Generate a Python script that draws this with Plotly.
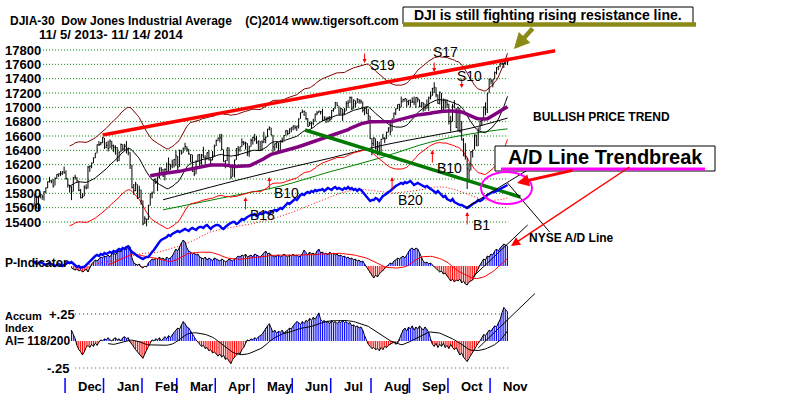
import plotly.graph_objects as go
import pandas as pd

# ---------------------------------------------------------------- data
PRICE_TICKS = [17800, 17600, 17400, 17200, 17000, 16800, 16600, 16400,
               16200, 16000, 15800, 15600, 15400]
MONTHS = ["Dec", "Jan", "Feb", "Mar", "Apr", "May", "Jun", "Jul", "Aug",
          "Sep", "Oct", "Nov"]
# trading-day index (0 = 11/5/2013) of the first session of each month
MONTH_START = [18, 39, 60, 79, 100, 121, 142, 163, 185, 206, 227, 250]

CLOSE_NOV13 = [15618, 15747, 15594, 15762, 15784, 15751, 15822, 15876, 15962, 15976, 15968, 15900, 16010, 16065, 16073, 16073, 16097, 16086]
HIGH_NOV13 = [15660, 15797, 15750, 15765, 15800, 15784, 15830, 15880, 15965, 16030, 15990, 16000, 16020, 16068, 16075, 16110, 16109, 16174]
LOW_NOV13 = [15580, 15620, 15590, 15555, 15730, 15710, 15700, 15800, 15870, 15950, 15940, 15880, 15910, 16000, 16030, 16040, 16055, 16075]
CLOSE_DEC13 = [16008, 15915, 15889, 15822, 16020, 16025, 15973, 15843, 15739, 15756, 15885, 15875, 16167, 16179, 16221, 16295, 16358, 16479, 16479, 16505, 16577]
HIGH_DEC13 = [16120, 16010, 15920, 15900, 16030, 16060, 16025, 15975, 15860, 15800, 15910, 15925, 16180, 16190, 16230, 16300, 16365, 16482, 16529, 16518, 16588]
LOW_DEC13 = [15990, 15880, 15810, 15705, 15825, 15990, 15960, 15830, 15730, 15730, 15760, 15855, 15865, 16100, 16150, 16220, 16290, 16360, 16460, 16470, 16500]
CLOSE_JAN = [16441, 16470, 16425, 16530, 16463, 16444, 16437, 16257, 16374, 16482, 16418, 16459, 16414, 16373, 16198, 15879, 15838, 15929, 15739, 15849, 15699]
HIGH_JAN = [16573, 16518, 16533, 16550, 16530, 16480, 16470, 16445, 16385, 16495, 16485, 16490, 16530, 16440, 16373, 16198, 15930, 15960, 15925, 15905, 15850]
LOW_JAN = [16420, 16430, 16385, 16430, 16410, 16375, 16340, 16240, 16250, 16375, 16390, 16395, 16355, 16330, 16140, 15870, 15780, 15830, 15720, 15735, 15640]
CLOSE_FEB = [15373, 15445, 15440, 15629, 15794, 15801, 15995, 15964, 16028, 16154, 16130, 16041, 16133, 16103, 16208, 16179, 16198, 16273, 16322]
HIGH_FEB = [15700, 15480, 15445, 15640, 15800, 15825, 16000, 16010, 16035, 16160, 16165, 16140, 16150, 16230, 16300, 16210, 16270, 16280, 16400]
LOW_FEB = [15355, 15373, 15340, 15430, 15630, 15730, 15800, 15930, 15830, 16005, 16090, 16030, 15980, 16090, 16105, 16125, 16150, 16160, 16180]
CLOSE_MAR = [16168, 16396, 16361, 16422, 16453, 16419, 16351, 16341, 16108, 16066, 16247, 16337, 16223, 16332, 16303, 16276, 16368, 16268, 16264, 16323, 16458]
HIGH_MAR = [16320, 16410, 16400, 16440, 16505, 16455, 16420, 16345, 16340, 16130, 16260, 16340, 16350, 16350, 16450, 16330, 16370, 16405, 16290, 16390, 16480]
LOW_MAR = [16100, 16170, 16340, 16365, 16410, 16380, 16340, 16235, 16100, 16040, 16070, 16245, 16180, 16200, 16295, 16200, 16270, 16260, 16180, 16260, 16320]
CLOSE_APR = [16533, 16573, 16573, 16413, 16246, 16256, 16438, 16171, 16027, 16174, 16263, 16425, 16409, 16449, 16514, 16502, 16501, 16362, 16449, 16535, 16581]
HIGH_APR = [16550, 16575, 16630, 16630, 16410, 16260, 16440, 16440, 16170, 16190, 16270, 16430, 16460, 16450, 16565, 16530, 16520, 16500, 16465, 16565, 16590]
LOW_APR = [16460, 16530, 16510, 16400, 16240, 16150, 16250, 16170, 16000, 16030, 16020, 16265, 16320, 16380, 16445, 16470, 16410, 16320, 16310, 16450, 16480]
CLOSE_MAY = [16558, 16513, 16531, 16401, 16518, 16551, 16583, 16695, 16715, 16614, 16447, 16492, 16511, 16374, 16533, 16543, 16606, 16675, 16633, 16698, 16717]
HIGH_MAY = [16630, 16600, 16535, 16530, 16540, 16660, 16590, 16700, 16735, 16715, 16615, 16495, 16515, 16510, 16535, 16580, 16610, 16680, 16680, 16705, 16720]
LOW_MAY = [16525, 16490, 16400, 16400, 16400, 16500, 16500, 16585, 16680, 16610, 16370, 16400, 16430, 16360, 16375, 16505, 16540, 16605, 16610, 16630, 16650]
CLOSE_JUN = [16743, 16722, 16738, 16837, 16924, 16943, 16946, 16844, 16734, 16776, 16782, 16808, 16906, 16921, 16948, 16938, 16819, 16868, 16846, 16851, 16827]
HIGH_JUN = [16745, 16750, 16740, 16845, 16930, 16970, 16950, 16935, 16850, 16800, 16800, 16840, 16910, 16950, 16950, 16950, 16980, 16870, 16860, 16870, 16880]
LOW_JUN = [16680, 16690, 16670, 16705, 16840, 16920, 16880, 16820, 16730, 16740, 16700, 16750, 16800, 16890, 16920, 16900, 16810, 16810, 16780, 16790, 16800]
CLOSE_JUL = [16957, 16977, 17068, 17025, 16906, 16985, 16915, 16944, 17055, 17061, 17138, 16977, 17100, 17052, 17114, 17087, 17083, 16961, 16983, 16913, 16881, 16563]
HIGH_JUL = [16960, 16990, 17075, 17070, 17020, 16990, 16980, 16990, 17085, 17100, 17150, 17150, 17110, 17095, 17130, 17115, 17110, 17080, 16990, 17010, 16980, 16880]
LOW_JUL = [16830, 16940, 16980, 17020, 16900, 16900, 16810, 16900, 16950, 16990, 17060, 16960, 16980, 17000, 17060, 17050, 17050, 16930, 16890, 16910, 16800, 16560]
CLOSE_AUG = [16493, 16570, 16430, 16443, 16368, 16554, 16570, 16560, 16651, 16713, 16662, 16839, 16919, 16979, 17039, 17001, 17077, 17107, 17123, 17079, 17098]
HIGH_AUG = [16570, 16585, 16565, 16530, 16520, 16560, 16630, 16585, 16660, 16720, 16800, 16840, 16925, 16985, 17040, 17050, 17150, 17120, 17125, 17120, 17100]
LOW_AUG = [16330, 16460, 16410, 16330, 16330, 16330, 16550, 16500, 16560, 16650, 16610, 16670, 16840, 16890, 16975, 16950, 17000, 17070, 17080, 17000, 17030]
CLOSE_SEP = [17068, 17079, 17070, 17138, 17112, 17014, 17068, 17050, 16988, 17031, 17132, 17157, 17266, 17280, 17173, 17056, 17210, 16946, 17114, 17071, 17043]
HIGH_SEP = [17110, 17140, 17150, 17140, 17140, 17110, 17070, 17070, 17050, 17110, 17150, 17220, 17270, 17350, 17280, 17180, 17220, 17200, 17120, 17110, 17110]
LOW_SEP = [17000, 17060, 17030, 16990, 17070, 17000, 17000, 16940, 16950, 16980, 16950, 17110, 17160, 17200, 17140, 17050, 17040, 16940, 16950, 16980, 16990]
CLOSE_OCT = [16804, 16801, 17009, 16991, 16720, 16994, 16659, 16544, 16321, 16316, 16142, 16117, 16380, 16400, 16615, 16462, 16678, 16805, 16818, 17006, 16975, 17196, 17391]
HIGH_OCT = [17050, 16880, 17050, 17100, 16990, 17010, 16990, 16810, 16570, 16500, 16300, 16225, 16390, 16410, 16620, 16620, 16720, 16810, 16830, 17010, 17070, 17200, 17400]
LOW_OCT = [16760, 16660, 16800, 16990, 16710, 16660, 16650, 16540, 16320, 16270, 15860, 15990, 16120, 16300, 16410, 16460, 16460, 16680, 16740, 16820, 16890, 16920, 17200]
CLOSE_NOV14 = [17366, 17384, 17484, 17554, 17573, 17613, 17615, 17612, 17652, 17635]
HIGH_NOV14 = [17400, 17390, 17500, 17560, 17575, 17620, 17625, 17620, 17690, 17660]
LOW_NOV14 = [17320, 17280, 17390, 17460, 17520, 17560, 17590, 17550, 17600, 17590]

CLOSE = (CLOSE_NOV13 + CLOSE_DEC13 + CLOSE_JAN + CLOSE_FEB + CLOSE_MAR + CLOSE_APR + CLOSE_MAY
         + CLOSE_JUN + CLOSE_JUL + CLOSE_AUG + CLOSE_SEP + CLOSE_OCT + CLOSE_NOV14)
HIGH = (HIGH_NOV13 + HIGH_DEC13 + HIGH_JAN + HIGH_FEB + HIGH_MAR + HIGH_APR + HIGH_MAY
        + HIGH_JUN + HIGH_JUL + HIGH_AUG + HIGH_SEP + HIGH_OCT + HIGH_NOV14)
LOW = (LOW_NOV13 + LOW_DEC13 + LOW_JAN + LOW_FEB + LOW_MAR + LOW_APR + LOW_MAY
       + LOW_JUN + LOW_JUL + LOW_AUG + LOW_SEP + LOW_OCT + LOW_NOV14)

# P-Indicator (starts after 21 sessions)
P_IND = [None] * 21 + [
    -40, -60, -80, -60, -100, -80, -120, -100, -60,
    -120, -40, 40, 80,
    120, 100, 140, 180, 160, 200, 180, 220, 180, 240, 260, 220, 280, 300, 280, 340, 360, 320, 420, 380,
    160, 60, 40, 20, 40, -20, -40, 0, -20,
    60, 100, 140, 120, 160, 140, 180, 140, 160, 120, 180, 140, 160, 200,
    260, 340, 300, 400, 460, 520, 480,
    360, 300, 280, 240, 260, 220, 240,
    180, 160, 140, 180, 120, 160, 140, 100, 160, 140, 120, 100, 140, 120, 80, 100, 140, 120, 100, 140,
    160, 200, 180, 220, 200, 240, 180, 200, 220, 180, 240, 220, 200, 180, 220,
    260, 300, 240, 260, 220, 200,
    180, 200, 220, 180, 200, 240, 200, 180, 220, 200, 240, 200, 220, 180, 200, 240,
    320, 260, 220, 280, 240, 260, 220, 300,
    340, 260, 280, 240, 260, 220, 280, 240, 260, 220, 240,
    200, 220, 180, 200, 160, 180, 140, 160, 120, 140, 100, 120, 80, 100,
    40, -20, -80, -140, -200, -240, -180, -220,
    -160, -120, -100, -60, -20, 20,
    60, 40, 100, 120, 160, 140, 180, 200, 160, 220,
    300, 340, 360, 320, 360, 340,
    260, 160, 100, 60, 80, 40, 60, 20, -20,
    -40, -80, -120, -100, -160, -140, -200, -240, -300, -260, -320, -280, -300, -260, -340, -300, -360, -380, -320,
    -300, -280, -200, -120, -60, 20,
    80, 140, 120, 200, 180, 240, 220, 300, 340, 300, 360, 400, 440, 420, 400]

# Accumulation Index
ACCUM = [None] * 21 + [
    0.10, 0.06, 0.02, -0.04, -0.08, -0.10, -0.13, -0.10, -0.06, -0.04, -0.06, -0.03, -0.05, -0.02, -0.04,
    -0.01, 0.01, 0.00, 0.02, 0.01, 0.03, 0.01, 0.00, 0.02, 0.03, 0.01, 0.02, 0.00, 0.03, 0.04, 0.02, 0.03, -0.01,
    -0.03, -0.06, -0.08, -0.10, -0.12, -0.14, -0.16, -0.12, -0.08, -0.05, -0.02,
    0.01, 0.00, 0.02, 0.01, 0.03, 0.00, 0.02, 0.04, 0.02, 0.05, 0.03, 0.06,
    0.08, 0.10, 0.12, 0.11, 0.15, 0.18, 0.16, 0.13, 0.12, 0.09,
    0.06, 0.03, 0.01, -0.01, -0.03,
    -0.05, -0.04, -0.07, -0.06, -0.09, -0.08, -0.11, -0.10, -0.12, -0.14, -0.12, -0.15, -0.13, -0.17, -0.16,
    -0.19, -0.21, -0.17, -0.15, -0.13, -0.11, -0.12, -0.08, -0.06,
    -0.02, 0.01, 0.00, 0.02, 0.01, 0.03, 0.02, 0.04, 0.05, 0.06,
    0.09, 0.12, 0.14, 0.16, 0.12,
    0.08, 0.10, 0.07, 0.09, 0.08, 0.10, 0.07, 0.09, 0.10, 0.12, 0.11,
    0.14, 0.16, 0.18, 0.17, 0.15, 0.18, 0.16, 0.19, 0.18, 0.21, 0.19, 0.22, 0.20, 0.23, 0.26,
    0.20, 0.18, 0.19, 0.17, 0.18, 0.16, 0.19, 0.17, 0.18, 0.16, 0.18, 0.17, 0.19, 0.17, 0.18, 0.16, 0.17,
    0.14, 0.15, 0.13, 0.14, 0.12, 0.13, 0.10,
    0.05, 0.00, -0.03,
    -0.05, -0.07, -0.06, -0.08, -0.07, -0.09, -0.06, -0.08, -0.05, -0.06, -0.04, -0.03,
    -0.02, -0.01, -0.03, -0.02,
    0.02, 0.06, 0.10, 0.12, 0.09, 0.13, 0.11, 0.14, 0.10, 0.13, 0.11, 0.14, 0.12, 0.10, 0.13, 0.11, 0.08,
    0.02, -0.03, -0.05, -0.02, -0.06, -0.03, -0.05, -0.02, -0.06, -0.04, -0.07, -0.03, -0.06,
    -0.08, -0.06, -0.10, -0.13, -0.11, -0.15, -0.17, -0.19, -0.16, -0.13, -0.10, -0.07, -0.04,
    -0.02, 0.00, 0.03, 0.06, 0.05, 0.08, 0.10, 0.09, 0.12, 0.14, 0.13, 0.17, 0.20, 0.26, 0.31, 0.29, 0.27]

# NYSE cumulative advance/decline line (relative units)
AD_LINE = [
    20, 30, 10, 20, 30, 20, 10, 0, 10, 20, 10, 0, -10, 0, 10, 0, -10, 0,
    10, 30, 20, 30, 10, -10, -20, -10, -30, -20, -20, 0, 20, 40, 60, 80,
    90, 100, 90, 110, 100, 120, 110, 120, 130, 120, 140, 130, 150, 160, 150, 170, 160, 180, 180, 150, 130, 120,
    100, 90, 80, 70, 60, 70, 80, 80, 110, 130,
    150, 180, 200, 230, 250, 260, 270, 280, 300, 290, 310, 320, 330, 340, 330, 340, 350,
    360, 350, 340, 360, 370, 360, 350, 370, 380, 380, 370, 390, 400, 380, 360, 380, 390, 400, 400,
    390, 370, 360, 380, 400, 410, 420, 430, 430, 410, 420, 440, 460, 450, 470, 480, 490, 500,
    500, 510, 490, 500, 520, 510, 520, 530, 520, 510, 530, 540, 550, 540, 560, 570, 560, 580,
    600, 620, 610, 630, 650, 660, 650, 680, 700, 710, 700, 720, 730, 720, 740, 730, 750, 740, 750, 750,
    760, 740, 760, 770, 760, 750, 770, 780, 760, 770, 760, 750, 770, 760, 780, 760, 770, 750, 760, 740, 760, 750,
    730, 710, 690, 660, 640, 650, 650, 670, 660, 640, 670, 690, 700, 720, 730,
    740, 760, 770, 790, 800, 810, 820, 810, 830, 820, 830, 840, 820, 800, 810, 820, 810, 800,
    790, 780, 790, 770, 760, 750, 730, 720, 740, 720, 700, 680, 690, 660, 650, 640, 660, 630, 620, 610, 600, 600, 590, 580, 570,
    580, 600, 610, 620, 630, 650, 640, 650, 670, 680, 700, 710, 720, 730, 730, 740, 750, 760, 770, 780, 790, 800]

# long-term averages (index, value)
LONG_IDX = [71, 108, 135, 162, 189, 217, 239, 259]
LONG_MA_BLACK = [15710, 15960, 16130, 16290, 16460, 16600, 16710, 16850]
LONG_MA_GREEN = [15570, 15760, 15900, 16100, 16290, 16515, 16630, 16700]

# hand-drawn trend lines (index, value)
RESIST_IDX = [38, 285]
RESIST_VAL = [16614, 17790]
GREEN_TL_IDX = [148.5, 266]
GREEN_TL_VAL = [16684, 15749]
AD_TL_IDX = [236, 270]
AD_TL_VAL = [570, 950]
PI_TL_IDX = [240, 270]
PI_TL_VAL = [-220, 820]
AI_TL_IDX = [243, 274]
AI_TL_VAL = [-0.065, 0.44]
PX_TL_IDX = [259, 282]
PX_TL_VAL = [15944, 15261]

# Buy / Sell signals
SIG_NAME = ["B18", "B10", "B20", "B10", "B1", "S19", "S17", "S10"]
SIG_IDX = [116, 129, 196, 218, 237, 181, 219, 234]
SIG_LEVEL = [15749, 16028, 16028, 16405, 15540, 17619, 17493, 17270]

# ---------------------------------------------------------------- geometry
W, H = 800, 395
X0_PX, PX_PER_DAY = 33.0, 1.832
FONT = "Liberation Sans, Arial, sans-serif"
N = len(CLOSE)
assert len(HIGH) == N and len(LOW) == N and len(P_IND) == N and len(ACCUM) == N and len(AD_LINE) == N


def axis_range(v1, p1, v2, p2):
    s = (v2 - v1) / (p2 - p1)
    return [v1 + (H - p1) * s, v1 + (0 - p1) * s]


def pxx(x):
    return x / W


def pxy(y):
    return 1 - y / H


idx = list(range(N))
close_s = pd.Series(CLOSE, dtype=float)
ma21 = close_s.rolling(21).mean()
ma65 = close_s.rolling(65).mean()
upper = ma21 * 1.035
lower = ma21 * 0.965
pi_ma = pd.Series(P_IND, dtype=float).rolling(21).mean()
ai_ma = pd.Series(ACCUM, dtype=float).rolling(21).mean()
ad_ma = pd.Series(AD_LINE, dtype=float).rolling(30).mean()


def nz(s):
    return [None if pd.isna(v) else float(v) for v in s]


fig = go.Figure()


def line(x, y, color, width=1, dash=None, yaxis="y", shape="linear"):
    fig.add_trace(go.Scatter(x=x, y=y, mode="lines", yaxis=yaxis, hoverinfo="skip",
                             line=dict(color=color, width=width, dash=dash, shape=shape),
                             connectgaps=False, showlegend=False))


# price grid (dotted green)
gx, gy = [], []
for v in PRICE_TICKS:
    gx += [5.5, 259.5, None]
    gy += [v, v, None]
line(gx, gy, "#008000", 1, "1px,2px")

# +.25 / -.25 lines in Accum panel
line([23, 259.5], [0.25, 0.25], "#202020", 1, "1px,3px", "y3")
line([23, 259.5], [-0.25, -0.25], "#a0306a", 1, "1px,3px", "y3")


def hist(vals, yaxis):
    bx, by, rx, ry = [], [], [], []
    for i, v in enumerate(vals):
        if v is None:
            continue
        if v >= 0:
            bx += [i, i, None]; by += [0, v, None]
        else:
            rx += [i, i, None]; ry += [0, v, None]
    line(bx, by, "#0000ff", 1, None, yaxis)
    line(rx, ry, "#ff0000", 1, None, yaxis)
    line(idx, vals, "#000000", 1, None, yaxis)


hist(P_IND, "y2")
line(idx, nz(pi_ma), "#ff0000", 1, None, "y2")
hist(ACCUM, "y3")
line(idx, nz(ai_ma), "#000000", 1, None, "y3")

# long averages
line(LONG_IDX, LONG_MA_BLACK, "#000000", 1, shape="spline")
line(LONG_IDX, LONG_MA_GREEN, "#008000", 1, shape="spline")
# bands and 21-day average
line(idx, nz(upper), "#800000", 1)
line(idx, nz(lower), "#ff0000", 1)
line(idx, nz(ma21), "#000000", 1)

# price bars
bx, by, cx, cy = [], [], [], []
for i in range(N):
    bx += [i, i, None]; by += [LOW[i], HIGH[i], None]
    cx += [i, i + 0.6, None]; cy += [CLOSE[i], CLOSE[i], None]
line(bx, by, "#000000", 1)
line(cx, cy, "#000000", 1)

# 65-day average
line(idx, nz(ma65), "#800080", 3.5)

# trend lines
line(GREEN_TL_IDX, GREEN_TL_VAL, "#007a00", 3.5)
line(RESIST_IDX, RESIST_VAL, "#ff0000", 3.5)

# A/D line
line(idx, nz(ad_ma), "#ff0000", 1, "1px,2px", "y4")
line(idx, AD_LINE, "#0000ff", 2.5, None, "y4")

line(AD_TL_IDX, AD_TL_VAL, "#000000", 1, None, "y4")
line(PI_TL_IDX, PI_TL_VAL, "#000000", 1, None, "y2")
line(AI_TL_IDX, AI_TL_VAL, "#000000", 1, None, "y3")
line(PX_TL_IDX, PX_TL_VAL, "#000000", 1)

# ---------------------------------------------------------------- annotations
ann = []
shapes = []


def text(x, y, t, size=12, bold=True, xanchor="left", yanchor="middle", color="#000000",
         xref="paper", yref="paper", xshift=0, yshift=0):
    ann.append(dict(x=x, y=y, xref=xref, yref=yref, text=("<b>%s</b>" % t) if bold else t,
                    showarrow=False, xanchor=xanchor, yanchor=yanchor,
                    xshift=xshift, yshift=yshift,
                    font=dict(family=FONT, size=size, color=color)))


def arrow(hx, hy, tx, ty, color, width=1, head=2, size=1.0, xref="paper", yref="paper"):
    if xref == "paper":
        hx, hy, dx, dy = pxx(hx), pxy(hy), tx - hx, ty - hy
    else:
        dx, dy = tx, ty
    ann.append(dict(x=hx, y=hy, xref=xref, yref=yref, ax=dx, ay=dy, text="",
                    showarrow=True, arrowhead=head, arrowsize=size, arrowwidth=width,
                    arrowcolor=color))


text(pxx(8), pxy(21), "DJIA-30  Dow Jones Industrial Average    (C)2014 www.tigersoft.com", 12)
text(pxx(37), pxy(34), "11/ 5/ 2013- 11/ 14/ 2014", 13)

for v in PRICE_TICKS:
    text(pxx(43), v, str(v), 13, xanchor="right", yref="y")

text(pxx(3), pxy(263), "P-Indicator", 12)
text(pxx(3), pxy(316), "Accum", 11)
text(pxx(3), pxy(328), "Index", 11)
text(pxx(3), pxy(340.5), "AI= 118/200", 12)
text(pxx(47), 0.25, "+.25", 13, yref="y3")
text(pxx(45), -0.25, "-.25", 13, yref="y3")

# month axis
for m, s in zip(MONTHS, MONTH_START):
    shapes.append(dict(type="line", xref="x", yref="paper", x0=s - 0.5, x1=s - 0.5,
                       y0=pxy(393), y1=pxy(378), line=dict(color="#0000ff", width=1.5)))
    text(s - 0.5, pxy(386), m, 13, xref="x", xshift=11)

# signals
SIG_DX = [16.5, 17.5, 18.5, 17, 14.5, 17.5, 11.5, 8]
SIG_DY = [18, 16, 23, 18, 13, 2, -20, -12]
for name, i, lv, dx, dy in zip(SIG_NAME, SIG_IDX, SIG_LEVEL, SIG_DX, SIG_DY):
    buy = name.startswith("B")
    arrow(i, lv, 0, 14 if buy else -11, "#ff0000", 1, 2, 0.8, xref="x", yref="y")
    text(i, lv, name, 14, bold=False, xanchor="center", xref="x", yref="y",
         xshift=dx, yshift=-dy)

# headline box
shapes.append(dict(type="rect", xref="paper", yref="paper", x0=pxx(403), x1=pxx(693),
                   y0=pxy(24), y1=pxy(7), line=dict(color="#000000", width=1),
                   fillcolor="#ffffff", layer="above"))
shapes.append(dict(type="line", xref="paper", yref="paper", x0=pxx(403), x1=pxx(696),
                   y0=pxy(24.5), y1=pxy(24.5), line=dict(color="#8a8a14", width=4.5)))
text(pxx(548), pxy(15.5), "DJI is still fighting rising resistance line.", 14, xanchor="center")
arrow(514, 49, 534, 27, "#8a8a14", 4.5, 2, 0.7)

text(pxx(531), pxy(117), "BULLISH PRICE TREND", 12)

# A/D trendbreak box
shapes.append(dict(type="rect", xref="paper", yref="paper", x0=pxx(495), x1=pxx(715),
                   y0=pxy(171), y1=pxy(146), line=dict(color="#000000", width=1),
                   fillcolor="#ffffff", layer="above"))
shapes.append(dict(type="line", xref="paper", yref="paper", x0=pxx(501), x1=pxx(705),
                   y0=pxy(169), y1=pxy(169), line=dict(color="#ff00ff", width=3)))
text(pxx(605.5), pxy(156.5), "A/D Line Trendbreak", 20, xanchor="center")
shapes.append(dict(type="circle", xref="paper", yref="paper", x0=pxx(481), x1=pxx(532),
                   y0=pxy(204), y1=pxy(172), line=dict(color="#ff00ff", width=2)))
arrow(517, 183, 574, 170, "#ff0000", 3, 2, 0.8)
arrow(511, 246, 631, 166, "#ff0000", 1.5, 2, 1.2)
text(pxx(527), pxy(238), "NYSE A/D Line", 12)

fig.update_layout(
    width=W, height=H, margin=dict(l=0, r=0, t=0, b=0),
    paper_bgcolor="#ffffff", plot_bgcolor="#ffffff",
    xaxis=dict(range=[-X0_PX / PX_PER_DAY, (W - X0_PX) / PX_PER_DAY], visible=False,
               fixedrange=True),
    yaxis=dict(range=axis_range(17800, 50, 15400, 222), visible=False, fixedrange=True),
    yaxis2=dict(range=axis_range(0, 266, 520, 240), overlaying="y", visible=False,
                fixedrange=True),
    yaxis3=dict(range=axis_range(0, 341, 0.25, 314), overlaying="y", visible=False,
                fixedrange=True),
    yaxis4=dict(range=axis_range(0, 265, 1000, 165), overlaying="y", visible=False,
                fixedrange=True),
    annotations=ann, shapes=shapes, showlegend=False,
)

fig.write_html("out.html", config={"displayModeBar": False},
               post_script="document.body.style.margin='0';document.body.style.overflow='hidden';")
